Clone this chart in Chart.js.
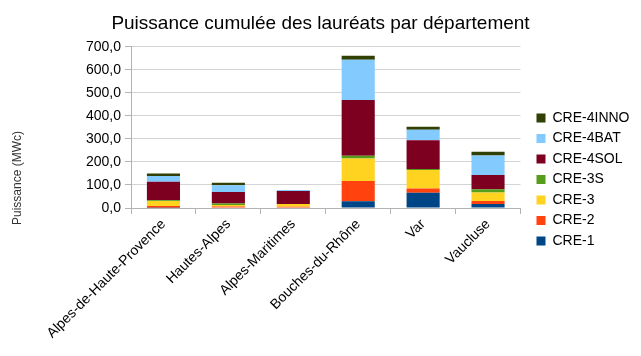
<!DOCTYPE html>
<html>
<head>
<meta charset="utf-8">
<script src="https://cdn.jsdelivr.net/npm/chart.js@4/dist/chart.umd.min.js"></script>
<style>
html,body{margin:0;padding:0;background:#fff;}
#wrap{width:641px;height:356px;position:relative;}
</style>
</head>
<body>
<div id="wrap"><canvas id="c" width="641" height="356"></canvas></div>
<script>
const categories = ["Alpes-de-Haute-Provence", "Hautes-Alpes", "Alpes-Maritimes", "Bouches-du-Rhône", "Var", "Vaucluse"];
const cre1     = [1, 0, 0, 29, 66, 17];
const cre2     = [8, 7, 5, 88, 19, 13];
const cre3     = [21, 6, 12, 98, 80, 37];
const cre3s    = [4, 6, 0, 12, 4, 14];
const cre4sol  = [80, 50, 57, 242, 125, 62];
const cre4bat  = [25, 30, 4, 175, 46, 85];
const cre4inno = [11, 11, 0, 17, 13, 16];
const yTicks = [0, 100, 200, 300, 400, 500, 600, 700];

const FONT = "'Liberation Sans', Arial, sans-serif";

const yTitlePlugin = {
  id: 'yTitle',
  afterDraw(chart) {
    const ctx = chart.ctx;
    ctx.save();
    ctx.translate(18, 178);
    ctx.rotate(-Math.PI / 2);
    ctx.font = "12px " + FONT;
    ctx.fillStyle = "#333";
    ctx.textAlign = "center";
    ctx.textBaseline = "middle";
    ctx.fillText("Puissance (MWc)", 0, 0);
    ctx.restore();
  }
};

const legendShift = {
  id: 'legendShift',
  afterLayout(chart) {
    const lg = chart.legend;
    const dx = 9.5;
    lg.left += dx; lg.right += dx;
    const h = lg.bottom - lg.top;
    const center = 179.5;
    lg.top = center - h / 2;
    lg.bottom = center + h / 2;
    const tb = chart.titleBlock;
    const tdx = 320.5 - (tb.left + tb.right) / 2;
    tb.left += tdx; tb.right += tdx;
  }
};

new Chart(document.getElementById('c'), {
  type: 'bar',
  data: {
    labels: categories,
    datasets: [
      { label: 'CRE-1', data: cre1, backgroundColor: '#004586' },
      { label: 'CRE-2', data: cre2, backgroundColor: '#ff420e' },
      { label: 'CRE-3', data: cre3, backgroundColor: '#ffd320' },
      { label: 'CRE-3S', data: cre3s, backgroundColor: '#579d1c' },
      { label: 'CRE-4SOL', data: cre4sol, backgroundColor: '#7e0021' },
      { label: 'CRE-4BAT', data: cre4bat, backgroundColor: '#83caff' },
      { label: 'CRE-4INNO', data: cre4inno, backgroundColor: '#314004' }
    ]
  },
  options: {
    responsive: false,
    animation: false,
    devicePixelRatio: 1,
    categoryPercentage: 1,
    barPercentage: 0.51,
    layout: { padding: { left: 0, right: 11, top: 0, bottom: 0 } },
    plugins: {
      title: {
        display: true,
        text: 'Puissance cumulée des lauréats par département',
        font: { family: FONT, size: 19, weight: 'normal' },
        color: '#000',
        padding: { top: 12, bottom: 12 }
      },
      legend: {
        position: 'right',
        reverse: true,
        labels: {
          boxWidth: 9, boxHeight: 9, padding: 6.5,
          font: { family: FONT, size: 14 },
          color: '#000'
        }
      },
      tooltip: { enabled: false }
    },
    scales: {
      x: {
        stacked: true,
        grid: { display: true, drawOnChartArea: false, offset: true, tickLength: 6, color: '#b3b3b3' },
        border: { color: '#b3b3b3' },
        ticks: {
          minRotation: 45, maxRotation: 45, autoSkip: false,
          font: { family: FONT, size: 14 }, color: '#000', padding: 2
        },
        afterFit(scale) { scale.height = 148; }
      },
      y: {
        stacked: true,
        min: 0, max: 700,
        afterBuildTicks(scale) { scale.ticks = yTicks.map(v => ({ value: v })); },
        grid: { color: '#d4d4d4', tickLength: 6, tickColor: '#b3b3b3' },
        border: { color: '#b3b3b3' },
        ticks: {
          font: { family: FONT, size: 14 }, color: '#000', padding: 4,
          callback: (v) => Number(v).toFixed(1).replace('.', ',')
        },
        afterFit(scale) { scale.width = 131; }
      }
    }
  },
  plugins: [yTitlePlugin, legendShift]
});
</script>
</body>
</html>
